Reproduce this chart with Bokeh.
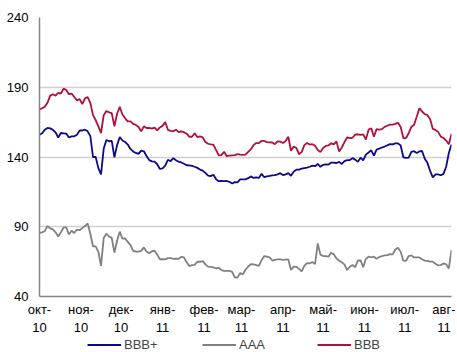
import pandas as pd
from bokeh.plotting import figure
from bokeh.layouts import column
from bokeh.models import Range1d, FixedTicker, Legend, LegendItem
from bokeh.embed import file_html
from bokeh.resources import INLINE

# Spread series (every 2 calendar days from 2010-10-01)
bbb_plus = [156, 157, 159.6, 160.8, 160.5, 159.5, 157.6, 154, 157.2, 157,
            156.8, 154, 154.8, 154.8, 156, 159, 159, 159.6, 158.4, 155,
            140, 140, 132, 127.5, 146, 152.2, 151.3, 151.5, 139.8, 148.5,
            154.3, 151.8, 150.8, 148.9, 145.8, 144, 142.9, 142.2, 144.6, 144.1,
            140.7, 137.8, 136.9, 136.7, 134.8, 131.4, 131.9, 133.9, 138, 137,
            139.2, 137.7, 136.6, 136.1, 135.2, 134.1, 134, 133.6, 133, 132.2,
            131, 130.2, 128.6, 126.7, 126.3, 127.3, 124, 122.7, 122.8, 122.7,
            122.8, 122.2, 121, 122, 121.8, 124, 124, 124, 124.8, 126.1,
            125, 125.4, 125, 128, 125.5, 126.1, 126.4, 126.8, 127, 127.5,
            128.4, 127, 127.6, 128.4, 126.5, 129.5, 130.9, 131, 131.7, 132.1,
            132.4, 133, 133.8, 133.4, 135, 133, 134.4, 134.7, 134.6, 135.9,
            136, 135.7, 136.5, 135, 137, 137.7, 137.8, 139.2, 138.1, 136.5,
            139.5, 137.5, 141.7, 143.2, 144.8, 141, 145.3, 146, 146.8, 147.5,
            148.3, 149.2, 149, 149.8, 149.8, 148.2, 139.8, 139.3, 139.5, 143.6,
            144.2, 142.9, 144, 144.3, 138.8, 135.8, 130, 125.4, 127.6, 127.6,
            126.9, 127.9, 133, 142.9, 148.9]

aaa = [85.7, 86, 87, 90.5, 88.8, 88.1, 86, 83, 86, 89.5,
       89.5, 84.5, 87.1, 85.5, 88, 87.5, 89, 90.5, 92.4, 85,
       76, 76, 72, 62, 82, 85, 83, 82, 71.4, 80,
       86.5, 81.5, 81.6, 79.2, 76.8, 72.7, 72.1, 72.1, 72.7, 75.2,
       72.3, 71, 72.4, 72.8, 70, 66.7, 66.8, 66.6, 67.5, 67.5,
       67, 67.2, 67, 68.4, 68, 64.5, 61.8, 62.5, 62.7, 64.9,
       64.9, 65.4, 63, 61.4, 61.3, 60.8, 60.1, 60.6, 58.9, 58.4,
       58.4, 58.4, 57.7, 53.8, 53.5, 56.8, 56, 59.2, 61.5, 63.2,
       63, 62.5, 61.9, 66, 69, 68.5, 68, 65.8, 66.3, 66.6,
       66.6, 66.3, 66.5, 66.6, 59, 61.4, 61.3, 59.8, 58, 62,
       64, 63.7, 64.7, 63.2, 78, 70, 69, 69, 68.5, 71.4,
       70.2, 67.3, 65.6, 64.6, 62.8, 59, 61.3, 62.6, 61, 65.8,
       65.9, 61, 67, 68.5, 68.1, 68.5, 67, 68.3, 69, 69.5,
       69.7, 70.3, 70.2, 73.7, 75, 72, 65.7, 65.6, 69, 69.5,
       68, 68, 68, 66.7, 65.7, 65.6, 65, 65, 63.5, 62.3,
       62.5, 63.7, 63.1, 60.1, 73.3]

bbb = [174, 175, 176, 179, 184, 185, 184, 186, 185.5, 189,
       188, 185, 185.5, 183, 180.5, 181.5, 178, 182, 183, 178.8,
       170, 166.5, 162, 157.2, 170, 173, 172, 171.5, 162, 171,
       176, 170.5, 167.7, 165.6, 165.5, 163.7, 163, 161.5, 158.4, 162,
       160.8, 160.8, 160.3, 161, 159, 161.2, 162.3, 165, 159.5, 158.7,
       158.4, 159.6, 157.8, 158.4, 157.8, 156.7, 154.5, 154.5, 157, 154.3,
       154.8, 154.1, 150.8, 149.5, 149, 148.9, 145, 141.2, 141.3, 143.7,
       140.6, 141, 141.2, 141.3, 142, 141.7, 141.5, 141.7, 143.7, 145.5,
       148.5, 150, 150, 151.5, 151.5, 150.7, 150.5, 150.4, 149.2, 151.2,
       151, 150, 151.4, 154.5, 144.5, 147.5, 146.5, 142, 143.5, 148.5,
       150, 148.9, 149.2, 148, 145, 143.5, 146.5, 148, 148.3, 149.8,
       149, 151.2, 144, 146.8, 150.7, 154, 153.6, 153.8, 156, 156.3,
       155.8, 156.2, 152.5, 159.6, 160.6, 154.5, 160, 159.6, 160, 161.6,
       162.4, 163.2, 163.2, 163.7, 164.5, 161.5, 153.6, 153.6, 157, 161.7,
       163, 168.8, 175, 172.6, 170.8, 170, 167.3, 160.2, 159.4, 158,
       154.6, 153.6, 151.8, 149.2, 156.5]

series_names = ["BBB+", "AAA", "BBB"]
series_colors = ["#0b0b8a", "#808080", "#b0103c"]

month_ticks = ["2010-10-01", "2010-11-01", "2010-12-01", "2011-01-01",
               "2011-02-01", "2011-03-01", "2011-04-01", "2011-05-01",
               "2011-06-01", "2011-07-01", "2011-08-01"]
month_labels = ["окт-\n10", "ноя-\n10", "дек-\n10", "янв-\n11", "фев-\n11",
                "мар-\n11", "апр-\n11", "май-\n11", "июн-\n11", "июл-\n11",
                "авг-\n11"]
y_ticks = [40, 90, 140, 190, 240]

dates = pd.date_range("2010-10-01", periods=len(bbb), freq="2D")
tick_ms = [pd.Timestamp(d).value / 1e6 for d in month_ticks]
series = [bbb_plus, aaa, bbb]

FONT = "Liberation Sans"

p = figure(width=455, height=337, x_axis_type="datetime",
           output_backend="svg", toolbar_location=None,
           x_range=Range1d(dates[0], dates[-1]),
           y_range=Range1d(40, 240),
           min_border_left=39, min_border_right=4,
           min_border_top=17, min_border_bottom=36)
p.outline_line_color = None
p.background_fill_color = "white"

for vals, col in zip(series, series_colors):
    p.line(dates, vals, line_color=col, line_width=1.8)

p.xaxis.ticker = FixedTicker(ticks=tick_ms)
p.xaxis.major_label_overrides = {t: l for t, l in zip(tick_ms, month_labels)}
p.yaxis.ticker = FixedTicker(ticks=y_ticks)

for ax in (p.xaxis[0], p.yaxis[0]):
    ax.axis_line_color = "#868686"
    ax.axis_line_width = 1.5
    ax.major_tick_line_color = None
    ax.minor_tick_line_color = None
    ax.major_tick_out = 0
    ax.major_tick_in = 0
    ax.major_label_text_font = FONT
    ax.major_label_text_font_size = "13px"
    ax.major_label_text_color = "black"

p.yaxis.major_label_standoff = 11
p.xaxis.major_label_standoff = 5

p.xgrid.grid_line_color = None
p.ygrid.grid_line_color = "#d0d0d0"
p.ygrid.grid_line_width = 1.5

# legend strip below the chart (its lines lie outside this strip's y-range)
lg = figure(width=455, height=15, output_backend="svg", toolbar_location=None,
            x_axis_type="datetime",
            x_range=Range1d(dates[0], dates[-1]), y_range=Range1d(0, 1),
            x_axis_location=None, y_axis_location=None, title=None,
            min_border=0)
lg.outline_line_color = None
lg.grid.visible = False
items = []
for name, vals, col in zip(series_names, series, series_colors):
    r = lg.line(dates, vals, line_color=col, line_width=1.8)
    items.append(LegendItem(label=name, renderers=[r]))
legend = Legend(items=items, orientation="horizontal", location=(48, 0),
                glyph_width=34, glyph_height=15, label_standoff=3,
                label_width=38, spacing=40, padding=0, margin=0,
                border_line_alpha=0, background_fill_alpha=0,
                label_text_font=FONT, label_text_font_size="13px",
                label_height=15)
lg.add_layout(legend)

layout = column(p, lg, spacing=0)
open("out.html", "w").write(file_html(layout, INLINE))
